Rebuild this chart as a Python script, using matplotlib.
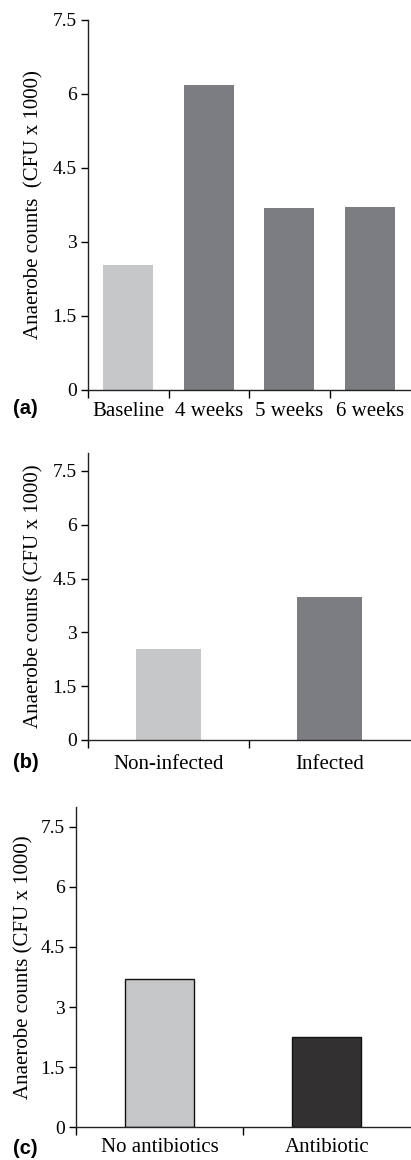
import matplotlib
matplotlib.use('Agg')
import matplotlib.pyplot as plt
import numpy as np

plt.rcParams['font.family'] = 'Liberation Serif'

# panel (a)
cats_a = ['Baseline', '4 weeks', '5 weeks', '6 weeks']
vals_a = [2.53, 6.19, 3.69, 3.71]
cols_a = ['#c6c7c9', '#7c7d81', '#7c7d81', '#7c7d81']

# panel (b)
cats_b = ['Non-infected', 'Infected']
vals_b = [2.54, 3.99]
cols_b = ['#c6c7c9', '#7c7d81']

# panel (c)
cats_c = ['No antibiotics', 'Antibiotic']
vals_c = [3.71, 2.25]
cols_c = ['#c6c7c9', '#323031']

yticks = [0, 1.5, 3, 4.5, 6, 7.5]
ytick_labels = ['0', '1.5', '3', '4.5', '6', '7.5']

fig = plt.figure(figsize=(4.11, 11.6), dpi=100)


def panel(rect, cats, vals, cols, width, ymax, edge, ylab, lab, lab_y, ylab_x, xpad):
    ax = fig.add_axes(rect)
    x = np.arange(len(cats))
    ax.bar(x, vals, width=width, color=cols,
           edgecolor='#111111' if edge else 'none', linewidth=1.0 if edge else 0)
    ax.set_xlim(-0.5, len(cats) - 0.5)
    ax.set_ylim(0, ymax)
    ax.set_yticks(yticks)
    ax.set_yticklabels(ytick_labels, fontsize=14)
    # boundary ticks, labels centred under bars
    ax.set_xticks(np.arange(len(cats)) - 0.5)
    ax.set_xticklabels([])
    ax.set_xticks(x, minor=True)
    ax.set_xticklabels(cats, minor=True, fontsize=15)
    ax.tick_params(axis='x', which='minor', length=0, pad=xpad)
    ax.tick_params(axis='x', which='major', length=6, width=1, direction='out')
    ax.tick_params(axis='y', length=5, width=1, pad=3)
    for s in ['top', 'right']:
        ax.spines[s].set_visible(False)
    for s in ['left', 'bottom']:
        ax.spines[s].set_linewidth(1.0)
        ax.spines[s].set_color('#222222')
    ax.set_ylabel(ylab, fontsize=15)
    ax.yaxis.set_label_coords(ylab_x, rect[1] + rect[3] / 2, transform=fig.transFigure)
    fig.text(13 / 411, lab_y, lab, family='Liberation Sans', fontweight='bold',
             fontsize=14.5, ha='left', va='center')
    return ax


panel([0.214, 0.6638, 0.784, 0.319], cats_a, vals_a, cols_a, 0.62, 7.5, False,
      'Anaerobe counts  (CFU x 1000)', '(a)', 1 - 408 / 1160, 43 / 411, 9)
panel([0.214, 0.3621, 0.784, 0.2474], cats_b, vals_b, cols_b, 0.40, 8.0, False,
      'Anaerobe counts (CFU x 1000)', '(b)', 1 - 762 / 1160, 43 / 411, 11)
panel([0.185, 0.0282, 0.813, 0.2764], cats_c, vals_c, cols_c, 0.41, 8.0, True,
      'Anaerobe counts (CFU x 1000)', '(c)', 1 - 1148 / 1160, 33 / 411, 8)

fig.savefig('out.png', dpi=100)
